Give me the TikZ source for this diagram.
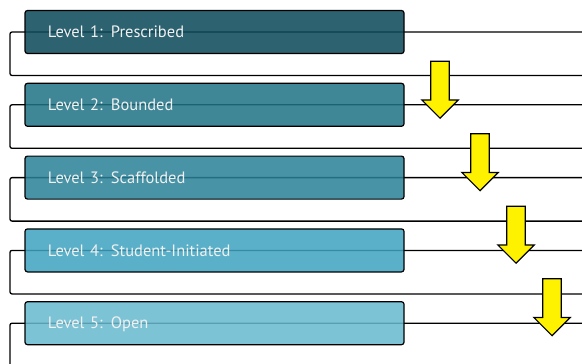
\documentclass[tikz,border=0pt]{standalone}
\usepackage{fontspec}
\setmainfont{PT Sans}
\usetikzlibrary{shapes.arrows,backgrounds}

\definecolor{lvlone}{HTML}{0B4859}
\definecolor{lvltwo}{HTML}{207386}
\definecolor{lvlthree}{HTML}{2A8197}
\definecolor{lvlfour}{HTML}{3FA3C0}
\definecolor{lvlfive}{HTML}{68B9CF}

\begin{document}
\begin{tikzpicture}[x=1pt,y=-1pt,
					levelnode/.style={rectangle,
					rounded corners=2.5pt,
					line width=1.2pt,
					minimum width=379pt,
					minimum height=43pt,
					text width=333pt,
					align=left,
					text height=11.5pt,
					text depth=0pt,
					draw=black,
					fill opacity=0.86,
					text opacity=1,
					text=white!94!black,
					font=\fontsize{16.5}{19}\selectfont},
					stepdown/.style={single arrow,
					shape border rotate=270,
					draw=black,
					line width=1.2pt,
					fill=yellow,
					inner sep=8.6pt,
					single arrow head extend=9pt,
					minimum height=57pt,
					anchor=tip},
					frameline/.style={black, line width=1.3pt, rounded corners=2pt}
					]

% picture size of the slide
\useasboundingbox (0,0) rectangle (582,364);

% level boxes
\node[levelnode, fill=lvlone]   (l1) at (214.5,32) {Level 1: Prescribed};
\node[levelnode, fill=lvltwo]   (l2) [below of = l1, node distance=72.8pt] {Level 2: Bounded};
\node[levelnode, fill=lvlthree] (l3) [below of = l2, node distance=72.8pt] {Level 3: Scaffolded};
\node[levelnode, fill=lvlfour]  (l4) [below of = l3, node distance=72.8pt] {Level 4: Student-Initiated};
\node[levelnode, fill=lvlfive]  (l5) [below of = l4, node distance=72.8pt] {Level 5: Open};

% brackets behind the boxes
\begin{scope}[on background layer]
\draw[frameline] (582,32) -- (10,32) -- (10,75.5) -- (582,75.5);
\draw[frameline] (582,104.8) -- (10,104.8) -- (10,148.3) -- (582,148.3);
\draw[frameline] (582,177.6) -- (10,177.6) -- (10,221.1) -- (582,221.1);
\draw[frameline] (582,250.4) -- (10,250.4) -- (10,293.9) -- (582,293.9);
\draw[frameline] (582,323.2) -- (10,323.2) -- (10,368);
\end{scope}

% yellow arrows
\node[stepdown] (arr1) at (440,119) {};
\node[stepdown] (arr2) at (480,191.5) {};
\node[stepdown] (arr3) at (516,264) {};
\node[stepdown] (arr4) at (552,336.5) {};

\end{tikzpicture}
\end{document}
